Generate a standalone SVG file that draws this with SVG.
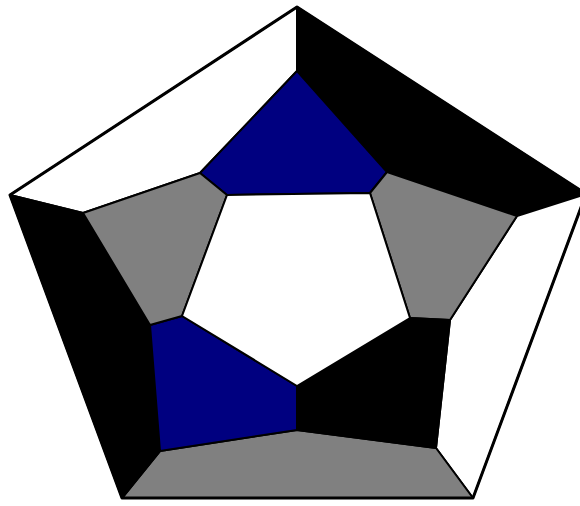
<svg xmlns="http://www.w3.org/2000/svg" width="580" height="506" viewBox="0 0 580 506">
<style>
.f{stroke:#000;stroke-width:2;stroke-linejoin:round}
.w{fill:#fff}.k{fill:#000}.g{fill:#808080}.b{fill:#000080}
.o{fill:none;stroke:#000;stroke-width:3;stroke-linejoin:round}
</style>
<rect width="580" height="506" fill="#fff"/>
<g id="faces">
<polygon id="whiteTL" class="f w" points="10,195 297,7 297,71 200,173 83,213"/>
<polygon id="blackTR" class="f k" points="297,7 586,194 517,216 387,172 297,71"/>
<polygon id="whiteR" class="f w" points="517,216 586,194 473,498 436,448 450,320"/>
<polygon id="grayB" class="f g" points="160,451 297,430 436,448 473,498 122,498"/>
<polygon id="blackL" class="f k" points="10,195 83,213 150,325 160,451 122,498"/>
<polygon id="blueT" class="f b" points="297,71 387,172 370,193 227,195 200,173"/>
<polygon id="grayTR" class="f g" points="387,172 517,216 450,320 410,318 370,193"/>
<polygon id="blackBR" class="f k" points="410,318 450,320 436,448 297,430 297,386"/>
<polygon id="blueBL" class="f b" points="150,325 182,316 297,386 297,430 160,451"/>
<polygon id="grayL" class="f g" points="83,213 200,173 227,195 182,316 150,325"/>
<polygon id="center" class="f w" points="227,195 370,193 410,318 297,386 182,316"/>
</g>
<g id="outline">
<polygon class="o" points="297,7 586,194 473,498 122,498 10,195"/>
</g>
</svg>
